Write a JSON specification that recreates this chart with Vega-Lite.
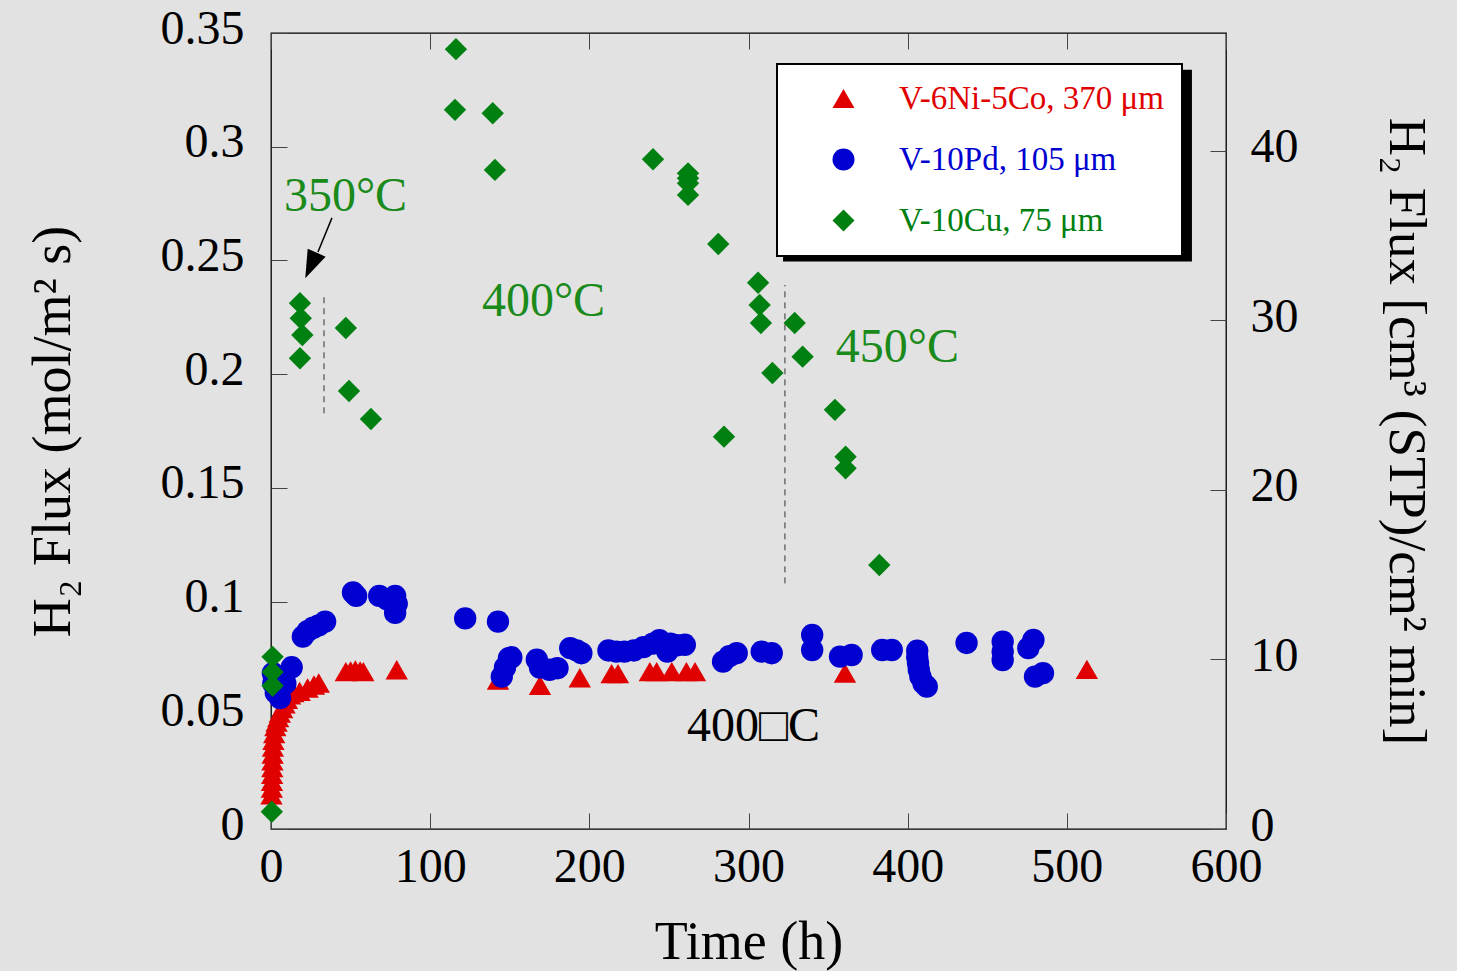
{
  "$schema": "https://vega.github.io/schema/vega-lite/v6.json",
  "width": 955,
  "height": 796,
  "autosize": {"type": "none"},
  "padding": {"left": 271, "top": 33, "right": 231, "bottom": 142},
  "background": "#e2e2e2",
  "config": {
    "font": "Liberation Serif",
    "view": {"stroke": "black", "strokeWidth": 1.3, "fill": "#e2e2e2"},
    "legend": {"strokeWidth": 2},
    "axis": {"grid": false, "domain": false, "tickColor": "#444", "tickWidth": 1, "labelFont": "Liberation Serif", "titleFont": "Liberation Serif", "labelColor": "black", "titleColor": "black", "labelFontSize": 48, "titleFontSize": 54, "titleFontWeight": "normal", "labelFlush": false, "labelOverlap": false}
  },
  "datasets": {
    "pts": [
      {"s": "V-6Ni-5Co, 370 μm", "t": 0.3, "f": 0.015},
      {"s": "V-6Ni-5Co, 370 μm", "t": 0.5, "f": 0.018},
      {"s": "V-6Ni-5Co, 370 μm", "t": 0.6, "f": 0.021},
      {"s": "V-6Ni-5Co, 370 μm", "t": 0.7, "f": 0.024},
      {"s": "V-6Ni-5Co, 370 μm", "t": 0.8, "f": 0.027},
      {"s": "V-6Ni-5Co, 370 μm", "t": 0.9, "f": 0.030},
      {"s": "V-6Ni-5Co, 370 μm", "t": 1.0, "f": 0.033},
      {"s": "V-6Ni-5Co, 370 μm", "t": 1.2, "f": 0.036},
      {"s": "V-6Ni-5Co, 370 μm", "t": 1.5, "f": 0.039},
      {"s": "V-6Ni-5Co, 370 μm", "t": 2.0, "f": 0.042},
      {"s": "V-6Ni-5Co, 370 μm", "t": 2.7, "f": 0.045},
      {"s": "V-6Ni-5Co, 370 μm", "t": 3.5, "f": 0.047},
      {"s": "V-6Ni-5Co, 370 μm", "t": 4.5, "f": 0.049},
      {"s": "V-6Ni-5Co, 370 μm", "t": 5.5, "f": 0.051},
      {"s": "V-6Ni-5Co, 370 μm", "t": 7, "f": 0.053},
      {"s": "V-6Ni-5Co, 370 μm", "t": 8.5, "f": 0.055},
      {"s": "V-6Ni-5Co, 370 μm", "t": 10, "f": 0.057},
      {"s": "V-6Ni-5Co, 370 μm", "t": 12, "f": 0.059},
      {"s": "V-6Ni-5Co, 370 μm", "t": 14, "f": 0.060},
      {"s": "V-6Ni-5Co, 370 μm", "t": 18, "f": 0.0605},
      {"s": "V-6Ni-5Co, 370 μm", "t": 23, "f": 0.062},
      {"s": "V-6Ni-5Co, 370 μm", "t": 27, "f": 0.0633},
      {"s": "V-6Ni-5Co, 370 μm", "t": 30, "f": 0.0642},
      {"s": "V-6Ni-5Co, 370 μm", "t": 47, "f": 0.0692},
      {"s": "V-6Ni-5Co, 370 μm", "t": 50, "f": 0.0695},
      {"s": "V-6Ni-5Co, 370 μm", "t": 53, "f": 0.0699},
      {"s": "V-6Ni-5Co, 370 μm", "t": 56, "f": 0.0695},
      {"s": "V-6Ni-5Co, 370 μm", "t": 58, "f": 0.0692},
      {"s": "V-6Ni-5Co, 370 μm", "t": 79, "f": 0.0700},
      {"s": "V-6Ni-5Co, 370 μm", "t": 142.6, "f": 0.0655},
      {"s": "V-6Ni-5Co, 370 μm", "t": 169, "f": 0.0632},
      {"s": "V-6Ni-5Co, 370 μm", "t": 194, "f": 0.0665},
      {"s": "V-6Ni-5Co, 370 μm", "t": 214, "f": 0.0683},
      {"s": "V-6Ni-5Co, 370 μm", "t": 218, "f": 0.0683},
      {"s": "V-6Ni-5Co, 370 μm", "t": 238, "f": 0.0692},
      {"s": "V-6Ni-5Co, 370 μm", "t": 242.3, "f": 0.0692},
      {"s": "V-6Ni-5Co, 370 μm", "t": 251.8, "f": 0.0692},
      {"s": "V-6Ni-5Co, 370 μm", "t": 261, "f": 0.0692},
      {"s": "V-6Ni-5Co, 370 μm", "t": 266.4, "f": 0.0692},
      {"s": "V-6Ni-5Co, 370 μm", "t": 360.6, "f": 0.0686},
      {"s": "V-6Ni-5Co, 370 μm", "t": 512.6, "f": 0.0702},
      {"s": "V-10Pd, 105 μm", "t": 1.2, "f": 0.0685},
      {"s": "V-10Pd, 105 μm", "t": 1.5, "f": 0.064},
      {"s": "V-10Pd, 105 μm", "t": 3, "f": 0.060},
      {"s": "V-10Pd, 105 μm", "t": 5.7, "f": 0.0576},
      {"s": "V-10Pd, 105 μm", "t": 9, "f": 0.064},
      {"s": "V-10Pd, 105 μm", "t": 13, "f": 0.0711},
      {"s": "V-10Pd, 105 μm", "t": 20, "f": 0.0846},
      {"s": "V-10Pd, 105 μm", "t": 23, "f": 0.0870},
      {"s": "V-10Pd, 105 μm", "t": 26.5, "f": 0.0885},
      {"s": "V-10Pd, 105 μm", "t": 30, "f": 0.0895},
      {"s": "V-10Pd, 105 μm", "t": 34, "f": 0.0912},
      {"s": "V-10Pd, 105 μm", "t": 51.5, "f": 0.1040},
      {"s": "V-10Pd, 105 μm", "t": 53.5, "f": 0.1025},
      {"s": "V-10Pd, 105 μm", "t": 68, "f": 0.1025},
      {"s": "V-10Pd, 105 μm", "t": 73, "f": 0.1010},
      {"s": "V-10Pd, 105 μm", "t": 78, "f": 0.1025},
      {"s": "V-10Pd, 105 μm", "t": 79, "f": 0.0990},
      {"s": "V-10Pd, 105 μm", "t": 78, "f": 0.0950},
      {"s": "V-10Pd, 105 μm", "t": 122, "f": 0.0926},
      {"s": "V-10Pd, 105 μm", "t": 142.6, "f": 0.0912},
      {"s": "V-10Pd, 105 μm", "t": 145, "f": 0.067},
      {"s": "V-10Pd, 105 μm", "t": 147, "f": 0.071},
      {"s": "V-10Pd, 105 μm", "t": 149.5, "f": 0.0751},
      {"s": "V-10Pd, 105 μm", "t": 151, "f": 0.0755},
      {"s": "V-10Pd, 105 μm", "t": 167, "f": 0.0745},
      {"s": "V-10Pd, 105 μm", "t": 169, "f": 0.071},
      {"s": "V-10Pd, 105 μm", "t": 175, "f": 0.070},
      {"s": "V-10Pd, 105 μm", "t": 180, "f": 0.0707},
      {"s": "V-10Pd, 105 μm", "t": 188, "f": 0.0795},
      {"s": "V-10Pd, 105 μm", "t": 192, "f": 0.0785},
      {"s": "V-10Pd, 105 μm", "t": 195, "f": 0.0773},
      {"s": "V-10Pd, 105 μm", "t": 212, "f": 0.0785},
      {"s": "V-10Pd, 105 μm", "t": 217, "f": 0.078},
      {"s": "V-10Pd, 105 μm", "t": 222, "f": 0.078},
      {"s": "V-10Pd, 105 μm", "t": 228, "f": 0.0785},
      {"s": "V-10Pd, 105 μm", "t": 234, "f": 0.080},
      {"s": "V-10Pd, 105 μm", "t": 240, "f": 0.0815},
      {"s": "V-10Pd, 105 μm", "t": 244, "f": 0.083},
      {"s": "V-10Pd, 105 μm", "t": 249, "f": 0.078},
      {"s": "V-10Pd, 105 μm", "t": 251, "f": 0.0815},
      {"s": "V-10Pd, 105 μm", "t": 255, "f": 0.0808},
      {"s": "V-10Pd, 105 μm", "t": 260, "f": 0.081},
      {"s": "V-10Pd, 105 μm", "t": 284, "f": 0.0736},
      {"s": "V-10Pd, 105 μm", "t": 288, "f": 0.076},
      {"s": "V-10Pd, 105 μm", "t": 292.6, "f": 0.0773},
      {"s": "V-10Pd, 105 μm", "t": 308.3, "f": 0.078},
      {"s": "V-10Pd, 105 μm", "t": 314.6, "f": 0.0773},
      {"s": "V-10Pd, 105 μm", "t": 340, "f": 0.0853},
      {"s": "V-10Pd, 105 μm", "t": 340, "f": 0.0787},
      {"s": "V-10Pd, 105 μm", "t": 357.5, "f": 0.0758},
      {"s": "V-10Pd, 105 μm", "t": 364.8, "f": 0.0765},
      {"s": "V-10Pd, 105 μm", "t": 384, "f": 0.0787},
      {"s": "V-10Pd, 105 μm", "t": 390, "f": 0.0787},
      {"s": "V-10Pd, 105 μm", "t": 406, "f": 0.0784},
      {"s": "V-10Pd, 105 μm", "t": 406, "f": 0.0755},
      {"s": "V-10Pd, 105 μm", "t": 406.5, "f": 0.0729},
      {"s": "V-10Pd, 105 μm", "t": 407, "f": 0.070},
      {"s": "V-10Pd, 105 μm", "t": 408, "f": 0.067},
      {"s": "V-10Pd, 105 μm", "t": 410, "f": 0.064},
      {"s": "V-10Pd, 105 μm", "t": 412, "f": 0.0626},
      {"s": "V-10Pd, 105 μm", "t": 437, "f": 0.0818},
      {"s": "V-10Pd, 105 μm", "t": 459.7, "f": 0.0824},
      {"s": "V-10Pd, 105 μm", "t": 459.7, "f": 0.078},
      {"s": "V-10Pd, 105 μm", "t": 459.7, "f": 0.0743},
      {"s": "V-10Pd, 105 μm", "t": 479, "f": 0.0831},
      {"s": "V-10Pd, 105 μm", "t": 475.8, "f": 0.0795},
      {"s": "V-10Pd, 105 μm", "t": 480, "f": 0.067},
      {"s": "V-10Pd, 105 μm", "t": 485, "f": 0.0685},
      {"s": "V-10Cu, 75 μm", "t": 0.5, "f": 0.0076},
      {"s": "V-10Cu, 75 μm", "t": 1, "f": 0.0757},
      {"s": "V-10Cu, 75 μm", "t": 1, "f": 0.069},
      {"s": "V-10Cu, 75 μm", "t": 1, "f": 0.063},
      {"s": "V-10Cu, 75 μm", "t": 18.2, "f": 0.2312},
      {"s": "V-10Cu, 75 μm", "t": 18.7, "f": 0.2246},
      {"s": "V-10Cu, 75 μm", "t": 19.7, "f": 0.2172},
      {"s": "V-10Cu, 75 μm", "t": 18.2, "f": 0.2070},
      {"s": "V-10Cu, 75 μm", "t": 47, "f": 0.2203},
      {"s": "V-10Cu, 75 μm", "t": 49, "f": 0.1926},
      {"s": "V-10Cu, 75 μm", "t": 62.8, "f": 0.1803},
      {"s": "V-10Cu, 75 μm", "t": 116.2, "f": 0.3429},
      {"s": "V-10Cu, 75 μm", "t": 115.6, "f": 0.3162},
      {"s": "V-10Cu, 75 μm", "t": 139.3, "f": 0.3147},
      {"s": "V-10Cu, 75 μm", "t": 140.7, "f": 0.2898},
      {"s": "V-10Cu, 75 μm", "t": 240, "f": 0.2945},
      {"s": "V-10Cu, 75 μm", "t": 262, "f": 0.2883},
      {"s": "V-10Cu, 75 μm", "t": 262, "f": 0.2861},
      {"s": "V-10Cu, 75 μm", "t": 262, "f": 0.2839},
      {"s": "V-10Cu, 75 μm", "t": 262, "f": 0.2788},
      {"s": "V-10Cu, 75 μm", "t": 281, "f": 0.2572},
      {"s": "V-10Cu, 75 μm", "t": 306, "f": 0.2402},
      {"s": "V-10Cu, 75 μm", "t": 307, "f": 0.2304},
      {"s": "V-10Cu, 75 μm", "t": 307.8, "f": 0.2225},
      {"s": "V-10Cu, 75 μm", "t": 329, "f": 0.2225},
      {"s": "V-10Cu, 75 μm", "t": 334, "f": 0.2077},
      {"s": "V-10Cu, 75 μm", "t": 315, "f": 0.2005},
      {"s": "V-10Cu, 75 μm", "t": 284.6, "f": 0.1725},
      {"s": "V-10Cu, 75 μm", "t": 354.3, "f": 0.1843},
      {"s": "V-10Cu, 75 μm", "t": 361, "f": 0.1637},
      {"s": "V-10Cu, 75 μm", "t": 361, "f": 0.1586},
      {"s": "V-10Cu, 75 μm", "t": 382.2, "f": 0.1161}
    ],
    "dashes": [
      {"t": 33.3, "a": 0.1828, "b": 0.2348},
      {"t": 322.9, "a": 0.108, "b": 0.2392}
    ],
    "arrow": [{"t1": 38.3, "a1": 0.2687, "t2": 29.5, "a2": 0.2537}],
    "head": [{"t": 25.1, "f": 0.2478}],
    "gnotes": [
      {"label": "350°C", "t": 46.8, "f": 0.2779},
      {"label": "400°C", "t": 171.2, "f": 0.2317},
      {"label": "450°C", "t": 393.6, "f": 0.2115}
    ],
    "knotes": [{"label": "400□C", "t": 303.1, "f": 0.0449}],
    "shadow": [{"t1": 321.7, "t2": 578.6, "a": 0.2495, "b": 0.3338}]
  },
  "layer": [
    {
      "layer": [
        {
          "data": {"name": "shadow"},
          "mark": {"type": "rect", "fill": "black"},
          "encoding": {
            "x": {"field": "t1", "type": "quantitative"},
            "x2": {"field": "t2"},
            "y": {"field": "a", "type": "quantitative"},
            "y2": {"field": "b"}
          }
        },
        {
          "data": {"name": "pts"},
          "mark": {"type": "point", "filled": true, "opacity": 1, "size": 500},
          "encoding": {
            "x": {"field": "t", "type": "quantitative", "scale": {"domain": [0, 600], "nice": false},
              "axis": {"orient": "bottom", "values": [0, 100, 200, 300, 400, 500, 600], "tickSize": -16, "labelPadding": 30, "title": "Time (h)", "titlePadding": 24}},
            "y": {"field": "f", "type": "quantitative", "scale": {"domain": [0, 0.35], "nice": false, "zero": true},
              "axis": {"orient": "left", "values": [0, 0.05, 0.1, 0.15, 0.2, 0.25, 0.3, 0.35], "format": ".2~f", "tickSize": -16, "labelPadding": 43, "labelOffset": -4, "title": "H₂ Flux (mol/m² s)", "titlePadding": 80}},
            "color": {"field": "s", "type": "nominal",
              "scale": {"domain": ["V-6Ni-5Co, 370 μm", "V-10Pd, 105 μm", "V-10Cu, 75 μm"], "range": ["#e00000", "#0000d0", "#008010"]},
              "legend": {"title": null, "orient": "none", "legendX": 506, "legendY": 31, "fillColor": "white", "strokeColor": "black", "padding": 18, "symbolSize": 484, "symbolOffset": 32, "labelOffset": 39, "labelFontSize": 33, "labelLimit": 500, "labelFont": "Liberation Serif", "rowPadding": 27, "symbolStrokeWidth": 0,
                "labelColor": {"expr": "datum.label == 'V-10Pd, 105 μm' ? '#0000d0' : datum.label == 'V-10Cu, 75 μm' ? '#008010' : '#e00000'"}}},
            "shape": {"field": "s", "type": "nominal",
              "scale": {"domain": ["V-6Ni-5Co, 370 μm", "V-10Pd, 105 μm", "V-10Cu, 75 μm"], "range": ["triangle-up", "circle", "diamond"]}}
          }
        },
        {
          "data": {"name": "dashes"},
          "mark": {"type": "rule", "color": "#333", "strokeWidth": 1, "strokeDash": [6, 5]},
          "encoding": {
            "x": {"field": "t", "type": "quantitative"},
            "y": {"field": "a", "type": "quantitative"},
            "y2": {"field": "b"}
          }
        },
        {
          "data": {"name": "arrow"},
          "mark": {"type": "rule", "color": "black", "strokeWidth": 1.5},
          "encoding": {
            "x": {"field": "t1", "type": "quantitative"},
            "y": {"field": "a1", "type": "quantitative"},
            "x2": {"field": "t2"},
            "y2": {"field": "a2"}
          }
        },
        {
          "data": {"name": "head"},
          "mark": {"type": "point", "filled": true, "color": "black", "opacity": 1, "shape": "M-0.7,-1L0.7,-1L0,1Z", "size": 784, "angle": 24},
          "encoding": {
            "x": {"field": "t", "type": "quantitative"},
            "y": {"field": "f", "type": "quantitative"}
          }
        },
        {
          "data": {"name": "gnotes"},
          "mark": {"type": "text", "color": "#1a8a1a", "fontSize": 48, "font": "Liberation Serif", "align": "center", "baseline": "middle"},
          "encoding": {
            "x": {"field": "t", "type": "quantitative"},
            "y": {"field": "f", "type": "quantitative"},
            "text": {"field": "label"}
          }
        },
        {
          "data": {"name": "knotes"},
          "mark": {"type": "text", "color": "black", "fontSize": 48, "font": "Liberation Serif", "align": "center", "baseline": "middle"},
          "encoding": {
            "x": {"field": "t", "type": "quantitative"},
            "y": {"field": "f", "type": "quantitative"},
            "text": {"field": "label"}
          }
        }
      ]
    },
    {
      "data": {"values": [{"t": 0, "r": 0}]},
      "mark": {"type": "point", "opacity": 0},
      "encoding": {
        "x": {"field": "t", "type": "quantitative",
          "axis": {"orient": "top", "values": [0, 100, 200, 300, 400, 500, 600], "labels": false, "tickSize": -16, "title": null}},
        "y": {"field": "r", "type": "quantitative", "scale": {"domain": [0, 46.96], "nice": false},
          "axis": {"orient": "right", "values": [0, 10, 20, 30, 40], "tickSize": -16, "labelPadding": 40, "labelOffset": -3, "title": "H₂ Flux [cm³ (STP)/cm² min]", "titlePadding": 80, "titleFontSize": 53}}
      }
    }
  ],
  "resolve": {"scale": {"y": "independent"}, "axis": {"x": "independent", "y": "independent"}}
}
